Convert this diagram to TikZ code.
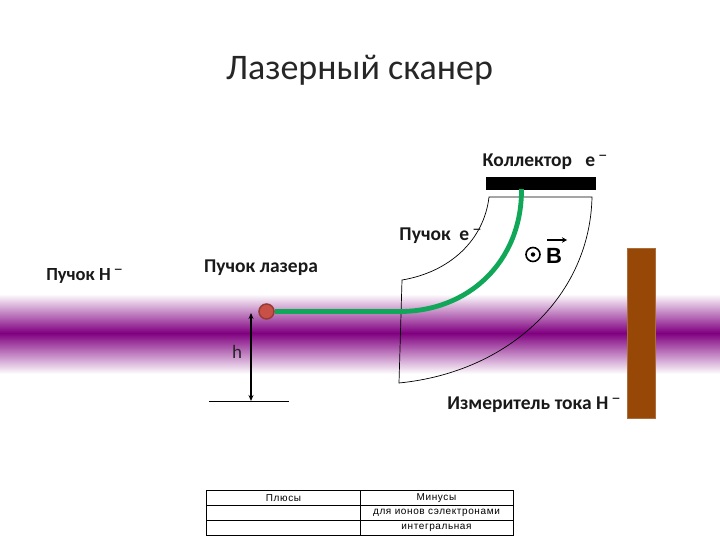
\documentclass[tikz,border=0pt]{standalone}
\usepackage{fontspec}
\setmainfont{Carlito}
\newfontfamily\arialf{Liberation Sans}
\newfontfamily\tabf[LetterSpace=6]{Liberation Sans}
\usetikzlibrary{arrows.meta}
\definecolor{beampurple}{RGB}{128,0,128}
\definecolor{beamgreen}{RGB}{16,168,88}
\definecolor{brownfill}{RGB}{152,72,6}
\definecolor{brownedge}{RGB}{170,110,60}
\definecolor{dotred}{RGB}{200,80,70}
\definecolor{dotedge}{RGB}{150,60,55}
\newcommand{\minussup}{\raisebox{0.5ex}{\,\fontsize{18}{18}\selectfont\mdseries\textminus}}
\tikzset{
  lbl/.style={inner sep=0pt,font=\fontsize{19.5}{22}\selectfont\bfseries,text=black!90},
  tcell/.style={inner sep=0pt,font=\tabf\fontsize{10}{11}\selectfont},
  thinl/.style={draw=black,line width=0.7pt},
  tabl/.style={draw=black,line width=0.8pt}
}
\begin{document}
\begin{tikzpicture}[x=1pt,y=-1pt]
\useasboundingbox (0,0) rectangle (720,540);
% beam
\shade[top color=white,bottom color=beampurple,draw=none] (0,294) rectangle (720,333);
\shade[top color=beampurple,bottom color=white,draw=none] (0,333) rectangle (720,374);
% title
\node[inner sep=0pt,font=\fontsize{36}{40}\selectfont,text=black!85] (title) at (359.5,70.5) {Лазерный сканер};
% sector
\draw[thinl] (489,197) .. controls (484,240) and (450,272) .. (402,280) -- (399,383)
  .. controls (510,372) and (590,295) .. (592,197) -- cycle;
% collector
\node[fill=black,inner sep=0pt,minimum width=110pt,minimum height=13pt] (coll) at (541,183.5) {};
% detector
\node[fill=brownfill,draw=brownedge,line width=1pt,inner sep=0pt,minimum width=28pt,minimum height=170pt] (det) at (641.5,333) {};
% dot
\node[circle,fill=dotred,draw=dotedge,line width=1.5pt,inner sep=0pt,minimum size=15pt] (dot) at (266.5,311.5) {};
\coordinate (bend) at (400,311.5);
\coordinate (lend) at (521.5,189);
% laser
\draw[beamgreen,line width=4.8pt] (dot.east) -- (bend) .. controls (468,311.5) and (522,262) .. (lend);
% height
\coordinate (htop) at (251,313);
\coordinate (hbot) at (251,401);
\draw[line width=1.2pt,{Stealth[length=6pt,width=5pt]}-{Stealth[length=6pt,width=5pt]}] (htop) -- (hbot);
\coordinate (gl) at (209,401.5);
\coordinate (gm) at (264,401.5);
\coordinate (gr) at (289,401.5);
\draw[line width=0.7pt] (gl) -- (gm);
\draw[line width=1.4pt] (gm) -- (gr);
% labels
\node[lbl,font=\fontsize{18.5}{22}\selectfont\bfseries] (lh) at (84.5,275.5) {Пучок H\minussup};
\node[lbl] (ll) at (261,267.5) {Пучок лазера};
\node[lbl] (le) at (440.5,235.5) {Пучок\ \ e\minussup};
\node[lbl] (lc) at (545,161.5) {Коллектор\ \ \ e\minussup};
\node[lbl] (li) at (534,404.5) {Измеритель тока H\minussup};
\node[inner sep=0pt,font=\fontsize{19}{20}\selectfont,text=black!85] (lhh) at (237,352) {h};
% B
\node[circle,draw=black,line width=1.6pt,inner sep=0pt,minimum size=14pt,fill=none] (bc) at (533,254.5) {};
\node[circle,fill=black,inner sep=0pt,minimum size=4.5pt] (bd) at (bc) {};
\node[inner sep=0pt,font=\arialf\fontsize{22}{24}\selectfont\bfseries] (bb) at (554,256) {B};
\coordinate (ba) at (547,240);
\coordinate (bb2) at (567,240);
\draw[line width=1.7pt,-{Stealth[length=5pt,width=5.5pt]}] (ba) -- (bb2);
% table
\draw[tabl] (206,490) rectangle (513,535);
\draw[tabl] (360,490) -- (360,535);
\draw[tabl] (206,505) -- (513,505);
\draw[tabl] (206,520) -- (513,520);
\node[tcell] (t1) at (283.5,498) {Плюсы};
\node[tcell] (t2) at (436.5,498) {Минусы};
\node[tcell] (t3) at (436.5,513) {для ионов сэлектронами};
\node[tcell] (t4) at (436.5,528) {интегральная};
\end{tikzpicture}
\end{document}
